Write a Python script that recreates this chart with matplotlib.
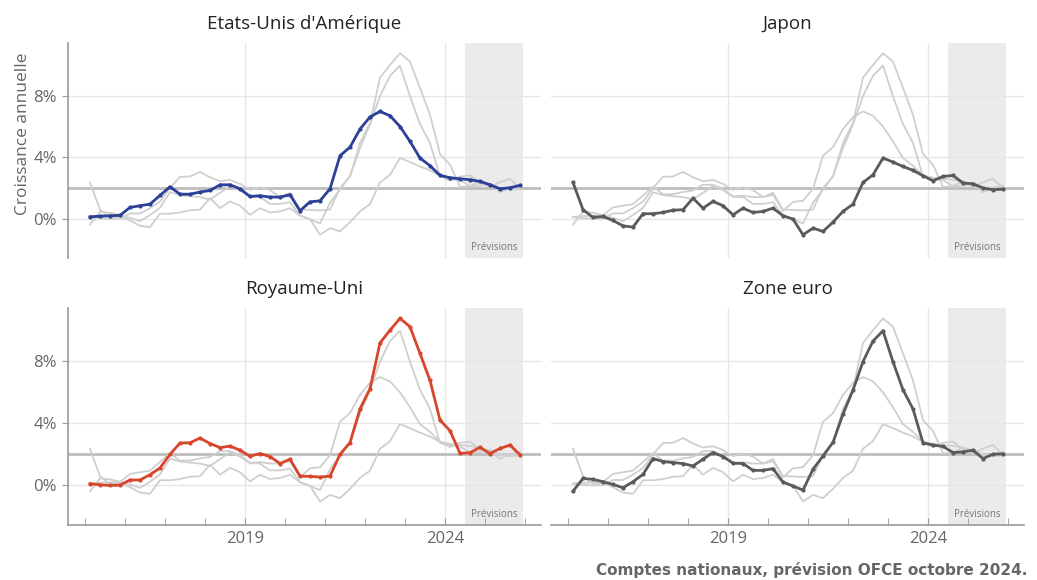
import matplotlib
matplotlib.use("Agg")
import matplotlib.pyplot as plt
import numpy as np

# ---- data (quarterly, 2015Q1 .. 2025Q4), annual growth in % ----
quarters = [f"{y}Q{q}" for y in range(2015, 2026) for q in range(1, 5)]

usa = [0.13, 0.17, 0.20, 0.22, 0.74, 0.85, 0.95, 1.52, 2.08, 1.60, 1.60, 1.74,
       1.84, 2.21, 2.21, 1.95, 1.45, 1.50, 1.41, 1.41, 1.56, 0.52, 1.10, 1.17,
       1.95, 4.10, 4.66, 5.83, 6.62, 6.98, 6.70, 6.00, 5.03, 3.95, 3.45, 2.82,
       2.67, 2.60, 2.54, 2.43, 2.21, 1.95, 2.02, 2.17]

japon = [2.36, 0.59, 0.09, 0.15, -0.11, -0.46, -0.54, 0.33, 0.33, 0.41, 0.56, 0.59,
         1.34, 0.69, 1.13, 0.85, 0.26, 0.69, 0.41, 0.48, 0.69, 0.20, -0.02, -1.04,
         -0.61, -0.82, -0.22, 0.48, 0.95, 2.36, 2.86, 3.95, 3.69, 3.40, 3.15, 2.80,
         2.47, 2.75, 2.82, 2.32, 2.28, 2.00, 1.89, 1.93]

royaume_uni = [0.11, 0.04, 0.00, 0.02, 0.35, 0.35, 0.69, 1.12, 2.00, 2.73, 2.75, 3.05,
               2.70, 2.44, 2.53, 2.27, 1.88, 2.05, 1.86, 1.41, 1.69, 0.60, 0.58, 0.54,
               0.60, 2.00, 2.76, 4.93, 6.23, 9.18, 10.00, 10.76, 10.22, 8.50, 6.76, 4.21,
               3.52, 2.07, 2.11, 2.45, 2.05, 2.38, 2.60, 1.97]

zone_euro = [-0.37, 0.45, 0.39, 0.24, 0.06, -0.15, 0.24, 0.71, 1.73, 1.54, 1.47, 1.41,
             1.25, 1.69, 2.12, 1.86, 1.43, 1.41, 0.97, 0.97, 1.08, 0.22, -0.04, -0.30,
             1.04, 1.90, 2.77, 4.60, 6.14, 7.98, 9.30, 9.96, 7.96, 6.16, 4.93, 2.74,
             2.60, 2.51, 2.12, 2.16, 2.27, 1.73, 2.01, 2.03]

titles = ["Etats-Unis d'Amérique", "Japon", "Royaume-Uni", "Zone euro"]
series = [usa, japon, royaume_uni, zone_euro]
colors = ["#2b4096", "#5a5a5a", "#d8452b", "#5a5a5a"]
y_ticks = [0, 4, 8]
y_tick_labels = ["0%", "4%", "8%"]
x_tick_years = [2019, 2024]
target = 2.0
forecast_start, forecast_end = 2024.5, 2025.95

# x positions (mid-quarter, decimal years)
x = np.array([int(q[:4]) + (int(q[-1]) - 1) / 4 + 0.125 for q in quarters])

plt.rcParams['font.family'] = ['Open Sans', 'DejaVu Sans']

W, H = 1037, 580
fig = plt.figure(figsize=(W / 100, H / 100), dpi=100)

lefts = [68, 551]
tops = [43, 308]
heights = [215, 217]
width = 473

tick_col = "#666666"
axes = []
for r in range(2):
    for c in range(2):
        l = lefts[c] / W
        b = 1 - (tops[r] + heights[r]) / H
        ax = fig.add_axes([l, b, width / W, heights[r] / H])
        axes.append((ax, r, c))

for idx, (ax, r, c) in enumerate(axes):
    ax.set_xlim(2014.575, 2026.4)
    ax.set_ylim(-2.55, 11.43)
    ax.axvspan(forecast_start, forecast_end, color="#ebebeb", zorder=0, lw=0)
    for yv in y_ticks:
        ax.axhline(yv, color="#e6e6e6", lw=1, zorder=0.5)
    for xv in x_tick_years:
        ax.axvline(xv, color="#e6e6e6", lw=1, zorder=0.5)
    ax.axhline(target, color="#bdbdbd", lw=2, zorder=1.5)
    for j, s in enumerate(series):
        if j != idx:
            ax.plot(x, s, color="#cfcfcf", lw=1.3, zorder=2)
    ax.plot(x, series[idx], color=colors[idx], lw=2, marker="o", ms=2.0,
            zorder=3)
    ax.set_title(titles[idx], fontsize=13.5, color="#222222", pad=10)
    ax.text(0.5 * (forecast_start + forecast_end), 0.025, "Prévisions",
            transform=ax.get_xaxis_transform(), ha="center", va="bottom",
            fontsize=7, color="#777777")

    for sp in ["top", "right"]:
        ax.spines[sp].set_visible(False)
    ax.spines["left"].set_visible(c == 0)
    ax.spines["bottom"].set_visible(r == 1)
    for sp in ["left", "bottom"]:
        ax.spines[sp].set_color("#999999")
        ax.spines[sp].set_linewidth(1.2)

    ax.set_yticks(y_ticks)
    if c == 0:
        ax.set_yticklabels(y_tick_labels)
        ax.tick_params(axis="y", length=4, color="#999999", labelsize=12,
                       labelcolor=tick_col, pad=4)
    else:
        ax.tick_params(axis="y", length=0, labelleft=False)

    ax.set_xticks(x_tick_years)
    ax.set_xticks(np.arange(2015, 2027), minor=True)
    if r == 1:
        ax.set_xticklabels([str(v) for v in x_tick_years])
        ax.tick_params(axis="x", which="both", direction="in", length=5,
                       color="#999999", labelsize=12, labelcolor=tick_col, pad=4)
    else:
        ax.tick_params(axis="x", which="both", length=0, labelbottom=False)

    if r == 0 and c == 0:
        ax.set_ylabel("Croissance annuelle", fontsize=12.5, color=tick_col)
        ax.yaxis.set_label_coords(-0.078, 0.58)

fig.text(1027 / W, 1 - 570 / H, "Comptes nationaux, prévision OFCE octobre 2024.",
         ha="right", va="center", fontsize=11, fontweight="bold",
         color="#666666", family=["DejaVu Sans"])

fig.savefig("out.png", dpi=100, facecolor="white")
